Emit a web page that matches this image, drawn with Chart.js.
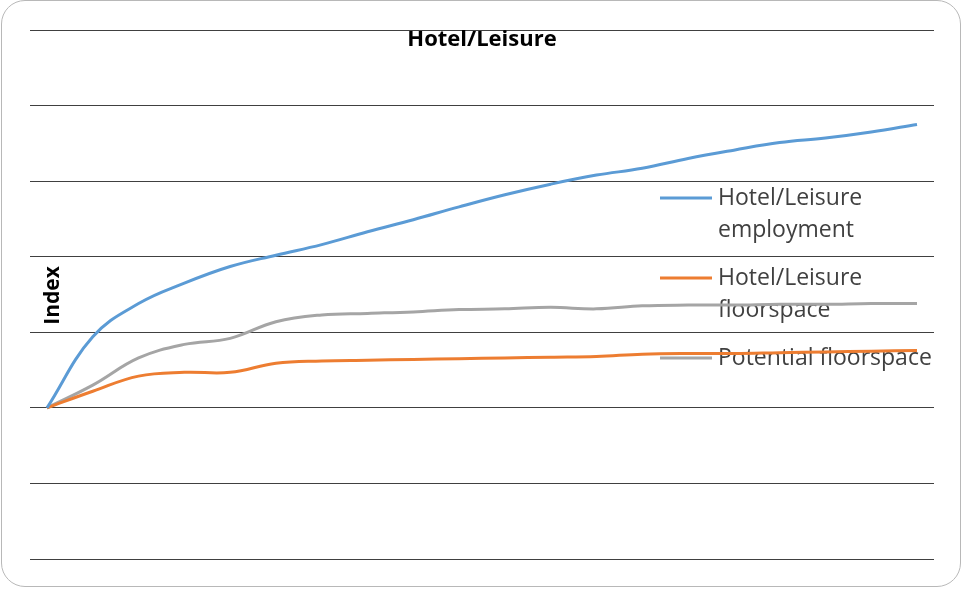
<!DOCTYPE html>
<html>
<head>
<meta charset="utf-8">
<title>Hotel/Leisure</title>
<script src="https://cdn.jsdelivr.net/npm/chart.js@4/dist/chart.umd.min.js"></script>
<style>
  html, body { margin: 0; padding: 0; background: #ffffff; }
  #wrap { position: relative; width: 962px; height: 589px; overflow: hidden; }
  #frame {
    position: absolute; left: 1px; top: 0px; width: 960px; height: 587px;
    box-sizing: border-box; border: 1.5px solid #b8b8b8; border-radius: 24px;
    pointer-events: none;
  }
  canvas { position: absolute; left: 0; top: 0; }
</style>
</head>
<body>
<div id="wrap">
  <canvas id="chart" width="962" height="589"></canvas>
  <div id="frame"></div>
</div>
<script>
// Annual index values (start year = 100)
const years = [2011, 2012, 2013, 2014, 2015, 2016, 2017, 2018, 2019, 2020,
               2021, 2022, 2023, 2024, 2025, 2026, 2027, 2028, 2029, 2030];

const employment = [100, 109.4, 113.8, 116.5, 118.7, 120.2, 121.6, 123.3, 124.9, 126.6,
                    128.2, 129.6, 130.8, 131.7, 133.0, 134.1, 135.1, 135.7, 136.5, 137.5];

const floorspace = [100, 102.2, 104.2, 104.7, 104.7, 105.9, 106.2, 106.3, 106.4, 106.5,
                    106.6, 106.7, 106.8, 107.1, 107.2, 107.2, 107.3, 107.4, 107.5, 107.6];

const potentialFloorspace = [100, 103.0, 106.6, 108.4, 109.2, 111.4, 112.3, 112.5, 112.7, 113.0,
                             113.1, 113.3, 113.1, 113.5, 113.6, 113.6, 113.7, 113.7, 113.8, 113.8];

const seriesNames = ['Hotel/Leisure employment', 'Hotel/Leisure floorspace', 'Potential floorspace'];
const seriesColors = ['#5B9BD5', '#ED7D31', '#A5A5A5'];

const chartTitle = 'Hotel/Leisure';
const yAxisTitle = 'Index';

const yMin = 80, yMax = 150, yStep = 10;

function toPoints(values) {
  return values.map((v, i) => ({ x: years[i], y: v }));
}

// Word-wrap helper for legend labels
function wrapText(ctx, text, maxWidth) {
  const words = text.split(' ');
  const lines = [];
  let line = '';
  for (const w of words) {
    const test = line ? line + ' ' + w : w;
    if (ctx.measureText(test).width > maxWidth && line) {
      lines.push(line);
      line = w;
    } else {
      line = test;
    }
  }
  if (line) lines.push(line);
  return lines;
}

// Title, axis title and legend are drawn inside the plot, beneath the lines
const overlayPlugin = {
  id: 'overlay',
  beforeDatasetsDraw(chart) {
    const ctx = chart.ctx;
    const area = chart.chartArea;
    ctx.save();

    // chart title
    ctx.fillStyle = '#000000';
    ctx.font = 'bold 22px "Open Sans", sans-serif';
    ctx.textAlign = 'center';
    ctx.textBaseline = 'middle';
    ctx.fillText(chartTitle, (area.left + area.right) / 2 + 0, area.top + 10);

    // y axis title
    ctx.save();
    ctx.translate(area.left + 23, (area.top + area.bottom) / 2 + 1);
    ctx.rotate(-Math.PI / 2);
    ctx.font = 'bold 21px "Open Sans", sans-serif';
    ctx.fillText(yAxisTitle, 0, 0);
    ctx.restore();

    // legend
    ctx.font = '23px "Open Sans", sans-serif';
    ctx.textAlign = 'left';
    ctx.textBaseline = 'middle';
    const swatchX = area.left + 630;
    const swatchLen = 52;
    const textX = swatchX + swatchLen + 6;
    const lineH = 32;
    let y = area.top + 168;
    chart.data.datasets.forEach((ds) => {
      const lines = wrapText(ctx, ds.label, 225);
      ctx.strokeStyle = ds.borderColor;
      ctx.lineWidth = 3;
      ctx.beginPath();
      ctx.moveTo(swatchX, y);
      ctx.lineTo(swatchX + swatchLen, y);
      ctx.stroke();
      ctx.fillStyle = '#404040';
      lines.forEach((ln, k) => ctx.fillText(ln, textX, y + k * lineH));
      y += 2 * lineH + 16;
    });

    ctx.restore();
  }
};

const datasets = [employment, floorspace, potentialFloorspace].map((vals, i) => ({
  label: seriesNames[i],
  data: toPoints(vals),
  borderColor: seriesColors[i],
  backgroundColor: seriesColors[i],
  borderWidth: 3,
  pointRadius: 0,
  tension: 0.4,
  fill: false
}));

new Chart(document.getElementById('chart'), {
  type: 'line',
  data: { datasets },
  options: {
    responsive: false,
    animation: false,
    devicePixelRatio: 1,
    layout: { padding: { left: 30, right: 28, top: 30, bottom: 30 } },
    plugins: {
      legend: { display: false },
      title: { display: false },
      tooltip: { enabled: false }
    },
    scales: {
      x: {
        type: 'linear',
        min: years[0] - 0.371,
        max: years[years.length - 1] + 0.371,
        grid: { display: false },
        border: { display: false },
        ticks: { display: false },
        afterFit(scale) { scale.height = 0; }
      },
      y: {
        min: yMin,
        max: yMax,
        ticks: { display: false, stepSize: yStep },
        grid: { color: '#404040', lineWidth: 1, drawTicks: false },
        border: { display: false },
        afterFit(scale) { scale.width = 0; }
      }
    }
  },
  plugins: [overlayPlugin]
});
</script>
</body>
</html>
